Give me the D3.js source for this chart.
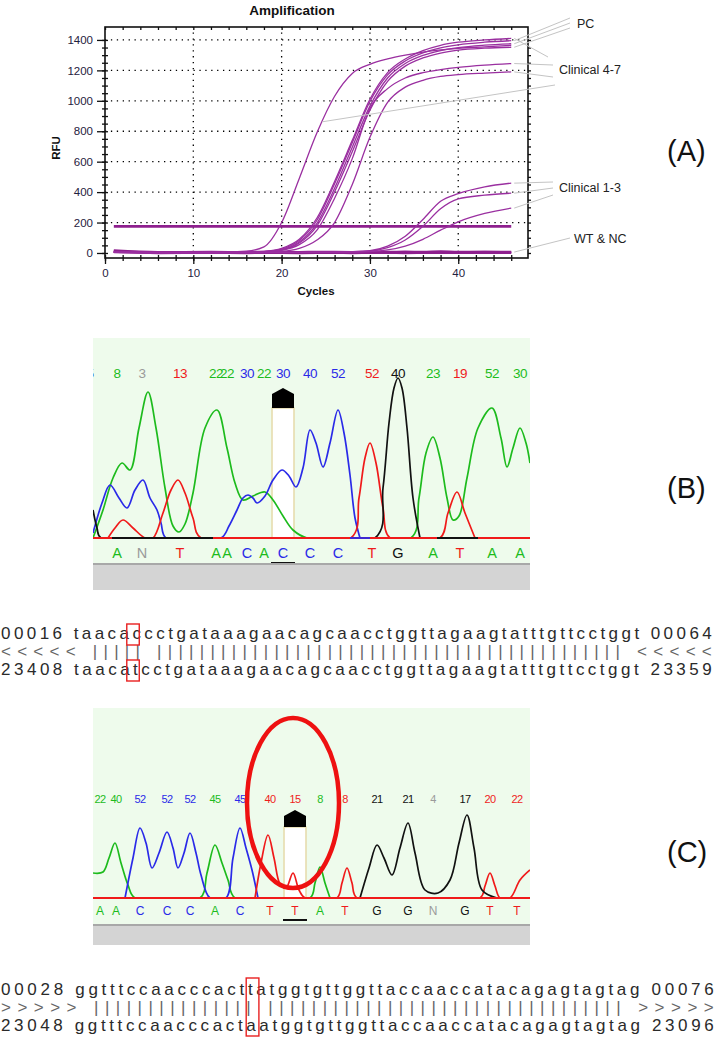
<!DOCTYPE html>
<html>
<head>
<meta charset="utf-8">
<script src="https://cdn.jsdelivr.net/npm/d3@7"></script>
<style>
body { margin: 0; background: #fff; }
text { font-family: "Liberation Sans", Arial, sans-serif; }
</style>
</head>
<body>
<div id="fig"></div>
<script>
// ---------- (A) amplification data
var cycles = [1, 6, 12, 16, 18, 20, 22, 24, 26, 28, 30, 32, 34, 36, 38, 40, 43, 46];
var earlyClinical = [8, 3, 3, 12, 40, 200, 490, 790, 1030, 1180, 1240, 1275, 1300, 1320, 1335, 1345, 1355, 1365];
var clinicalTop = [6, 3, 3, 5, 10, 30, 90, 230, 470, 740, 1010, 1185, 1275, 1330, 1365, 1385, 1400, 1410];
var pc1 = [6, 3, 2, 4, 9, 26, 82, 215, 455, 725, 995, 1170, 1262, 1315, 1348, 1368, 1385, 1395];
var pc2 = [7, 2, 3, 4, 8, 22, 72, 195, 425, 695, 965, 1150, 1245, 1298, 1330, 1350, 1366, 1375];
var pc3 = [6, 3, 3, 5, 8, 20, 65, 178, 402, 665, 938, 1128, 1228, 1282, 1314, 1333, 1346, 1352];
var clinical5 = [6, 3, 3, 4, 7, 18, 55, 150, 360, 620, 950, 1080, 1150, 1185, 1205, 1220, 1235, 1245];
var clinical6 = [5, 2, 3, 3, 5, 10, 30, 85, 200, 450, 760, 990, 1090, 1135, 1160, 1172, 1182, 1190];
var late1 = [4, 2, 2, 3, 3, 4, 4, 5, 6, 8, 15, 45, 110, 220, 340, 390, 435, 459];
var late2 = [3, 2, 2, 2, 3, 3, 4, 5, 6, 7, 12, 35, 85, 175, 290, 355, 380, 393];
var late3 = [4, 2, 3, 3, 3, 4, 4, 4, 5, 6, 9, 20, 45, 90, 150, 205, 260, 295];
var wt1 = [14, 4, 3, 5, 4, 6, 3, 5, 4, 3, 6, 5, 4, 7, 5, 6, 8, 6];
var wt2 = [10, 1, 2, 1, 2, 1, 2, 0, 1, 2, 1, 2, 1, 3, 2, 1, 2, 2];
var nc1 = [18, 7, 8, 7, 9, 8, 7, 9, 8, 7, 9, 8, 10, 9, 12, 8, 9, 8];
var nc2 = [5, -2, -1, -2, 0, -1, -2, -1, 0, -2, -1, 0, -2, -1, 0, -1, 0, -1];
var threshold = 175;
var rfuTicks = [0, 200, 400, 600, 800, 1000, 1200, 1400];
var cycleTicks = [0, 10, 20, 30, 40];
var groupLabels = ["PC", "Clinical 4-7", "Clinical 1-3", "WT & NC"];

// ---------- (B) chromatogram data  [scan, signal]
var bGreen = [[0,0],[10,28],[20,60],[29,75],[37,68],[46,110],[55,146],[63,110],[72,50],[80,12],[86,6],[92,14],[100,45],[112,110],[124,128],[134,90],[142,55],[150,38],[160,42],[172,46],[180,38],[190,22],[200,8],[214,0],[318,0],[326,40],[333,85],[340,101],[347,80],[354,40],[360,18],[366,22],[374,60],[385,110],[399,130],[408,100],[414,71],[420,90],[427,110],[433,95],[437,75]];
var bBlue = [[0,5],[9,35],[17,53],[26,40],[34,30],[42,48],[50,58],[57,40],[64,28],[68,15],[73,0],[128,0],[136,12],[144,28],[150,40],[155,43],[160,40],[164,35],[172,42],[180,58],[189,68],[196,62],[203,51],[210,70],[217,108],[223,95],[230,71],[237,95],[245,128],[251,105],[257,63],[262,20],[267,0]];
var bRed = [[15,0],[22,10],[30,18],[40,10],[52,0],[60,0],[70,25],[78,48],[85,58],[92,45],[100,20],[108,0],[258,0],[266,40],[272,80],[277,95],[283,75],[290,30],[297,0],[347,0],[355,25],[364,46],[372,25],[382,0]];
var bBlack = [[0,28],[4,10],[8,0],[282,0],[290,50],[296,115],[301,150],[305,160],[309,150],[314,110],[320,40],[327,0]];
var bCallPos = [-3, 24, 49, 87, 123, 134, 154, 171, 190, 217, 245, 279, 305, 340, 367, 399, 427];
var bCallBase = "CANTAACACCCTGATAA";
var bCallQual = [5, 8, 3, 13, 22, 22, 30, 22, 30, 40, 52, 52, 40, 23, 19, 52, 30];

// ---------- (C) chromatogram data
var cGreen = [[0,25],[10,26],[16,40],[22,55],[28,35],[35,13],[42,0],[107,0],[114,25],[122,53],[129,35],[135,18],[142,0],[217,0],[222,15],[227,31],[232,15],[237,0]];
var cBlue = [[32,0],[40,40],[47,70],[53,55],[59,30],[66,45],[74,66],[80,50],[85,30],[91,45],[97,65],[103,45],[108,23],[117,0],[133,0],[140,40],[147,70],[153,50],[159,28],[165,0]];
var cRed = [[162,0],[168,35],[175,63],[181,40],[187,14],[193,10],[200,25],[206,8],[212,0],[244,0],[249,15],[254,30],[259,15],[264,0],[387,0],[392,12],[397,25],[402,12],[407,0],[417,0],[427,18],[437,28]];
var cBlack = [[267,0],[276,30],[284,53],[291,40],[299,23],[307,50],[315,75],[322,45],[332,8],[345,5],[357,18],[366,55],[374,83],[381,50],[389,8],[404,0]];
var cCallPos = [7, 23, 47, 74, 97, 122, 147, 177, 202, 227, 252, 284, 315, 340, 372, 397, 424];
var cCallBase = "AACCCACTTATGGNGTT";
var cCallQual = [22, 40, 52, 52, 52, 45, 45, 40, 15, 8, 8, 21, 21, 4, 17, 20, 22];

// ---------- alignments
var bSeqTop = "taacaccctgataaagaacagcaacctggttagaagtatttgttcctggt";
var bSeqBottom = "taacatcctgataaagaacagcaacctggttagaagtatttgttcctggt";
var bSeqNums = ["00016", "00064", "23408", "23359"];
var cSeqTop = "ggtttccaacccacttatggtgttggttaccaaccatacagagtagtag";
var cSeqBottom = "ggtttccaacccactaatggtgttggttaccaaccatacagagtagtag";
var cSeqNums = ["00028", "00076", "23048", "23096"];

var baseColor = { A: "#1dbb1d", C: "#2a2ae8", G: "#111111", T: "#ee1c1c", N: "#9a9a9a" };
var purple = "#9a2fa0";

var svg = d3.select("#fig").append("svg").attr("width", 718).attr("height", 1055);
svg.append("rect").attr("width", 718).attr("height", 1055).attr("fill", "#fff");

// =============== (A)
var x = d3.scaleLinear().domain([0, 47.9]).range([105, 528]);
var y = d3.scaleLinear().domain([-33, 1485]).range([258, 27]);
var gA = svg.append("g");

gA.selectAll(".hgrid").data(rfuTicks.slice(1)).enter().append("line")
  .attr("x1", x(0)).attr("x2", x(47.9)).attr("y1", d => y(d)).attr("y2", d => y(d))
  .attr("stroke", "#000").attr("stroke-width", 1.3).attr("stroke-dasharray", "1.3,4.6");
gA.selectAll(".vgrid").data(cycleTicks.slice(1)).enter().append("line")
  .attr("x1", d => x(d)).attr("x2", d => x(d)).attr("y1", y(-33)).attr("y2", y(1485))
  .attr("stroke", "#000").attr("stroke-width", 1.3).attr("stroke-dasharray", "1.3,4.6");

// frame + ticks
gA.append("rect").attr("x", x(0)).attr("y", y(1485)).attr("width", x(47.9) - x(0)).attr("height", y(-33) - y(1485))
  .attr("fill", "none").attr("stroke", "#111").attr("stroke-width", 1.6);

function styleAxis(g) {
  g.select(".domain").remove();
  g.selectAll("line").attr("stroke", "#111").attr("stroke-width", 1.3);
  g.selectAll("text").attr("fill", "#1f2140").attr("font-size", "11.5px").attr("font-family", "Liberation Sans, Arial, sans-serif");
}
var minorY = d3.range(0, 1450, 50), minorX = d3.range(0, 48, 2);
gA.append("g").attr("transform", "translate(" + x(0) + ",0)")
  .call(d3.axisLeft(y).tickValues(rfuTicks).tickFormat(d3.format("d")).tickSize(8).tickPadding(4)).call(styleAxis);
gA.append("g").attr("transform", "translate(" + x(0) + ",0)")
  .call(d3.axisLeft(y).tickValues(minorY).tickSize(3).tickFormat("")).call(styleAxis);
gA.append("g").attr("transform", "translate(" + x(0) + ",0)")
  .call(d3.axisRight(y).tickValues(minorY).tickSize(3).tickFormat("")).call(styleAxis);
gA.append("g").attr("transform", "translate(" + x(47.9) + ",0)")
  .call(d3.axisRight(y).tickValues(minorY).tickSize(3).tickFormat("")).call(styleAxis);
gA.append("g").attr("transform", "translate(0," + y(-33) + ")")
  .call(d3.axisBottom(x).tickValues(cycleTicks).tickSize(6).tickPadding(5)).call(styleAxis);
gA.append("g").attr("transform", "translate(0," + y(-33) + ")")
  .call(d3.axisBottom(x).tickValues(minorX).tickSize(3).tickFormat("")).call(styleAxis);
gA.append("g").attr("transform", "translate(0," + y(-33) + ")")
  .call(d3.axisTop(x).tickValues(minorX).tickSize(3).tickFormat("")).call(styleAxis);
gA.append("g").attr("transform", "translate(0," + y(1485) + ")")
  .call(d3.axisBottom(x).tickValues(minorX).tickSize(3).tickFormat("")).call(styleAxis);

gA.append("text").attr("x", 292).attr("y", 15).attr("text-anchor", "middle")
  .attr("font-size", "13.5px").attr("font-weight", "bold").attr("fill", "#111").text("Amplification");
gA.append("text").attr("x", 316).attr("y", 295).attr("text-anchor", "middle")
  .attr("font-size", "11.5px").attr("font-weight", "bold").attr("fill", "#111").text("Cycles");
gA.append("text").attr("transform", "translate(60,148) rotate(-90)").attr("text-anchor", "middle")
  .attr("font-size", "11.5px").attr("font-weight", "bold").attr("fill", "#111").text("RFU");

var ampLine = d3.line().curve(d3.curveMonotoneX)
  .x((d, i) => x(cycles[i])).y(d => y(d));
var baseSeries = [wt1, wt2, nc1, nc2];
gA.selectAll(".base").data(baseSeries).enter().append("path")
  .attr("d", ampLine).attr("fill", "none").attr("stroke", "#8e1f8e").attr("stroke-width", 1.8);
gA.append("line").attr("x1", x(1)).attr("x2", x(46)).attr("y1", y(threshold)).attr("y2", y(threshold))
  .attr("stroke", "#8e1f8e").attr("stroke-width", 2.6);
var ampSeries = [earlyClinical, clinicalTop, pc1, pc2, pc3, clinical5, clinical6, late1, late2, late3];
gA.selectAll(".amp").data(ampSeries).enter().append("path")
  .attr("d", ampLine).attr("fill", "none").attr("stroke", purple).attr("stroke-width", 1.3);

// leader lines: [series, cycle on the curve, label index, slot]
var last = cycles.length - 1;
var leaders = [
  [pc1, 46, 0, [570, 18]], [pc2, 46, 0, [570, 23]], [pc3, 46, 0, [570, 28]],
  [clinicalTop, 46, 1, [548, 57]], [clinical5, 46, 1, [553, 65]], [clinical6, 46, 1, [553, 77]],
  [earlyClinical, 24.6, 1, [555, 85]],
  [late1, 46, 2, [553, 182]], [late2, 46, 2, [553, 188]], [late3, 46, 2, [553, 195]],
  [wt1, 46, 3, [570, 238]]
];
gA.selectAll(".leader").data(leaders).enter().append("line")
  .attr("x1", d => d[1] === 46 ? x(46) + 3 : x(d[1]))
  .attr("y1", d => d[1] === 46 ? y(d[0][last]) : y(790 + (d[1] - 24) * 120))
  .attr("x2", d => d[3][0]).attr("y2", d => d[3][1])
  .attr("stroke", "#c4c4c4").attr("stroke-width", 1);
var labelPos = [[577, 28], [559, 74], [559, 192], [574, 243]];
gA.selectAll(".glabel").data(groupLabels).enter().append("text")
  .attr("x", (d, i) => labelPos[i][0]).attr("y", (d, i) => labelPos[i][1])
  .attr("font-size", "12.5px").attr("fill", "#222").text(d => d);

// panel letters
var panelNames = ["(A)", "(B)", "(C)"];
var panelY = [161, 498, 862];
svg.selectAll(".pname").data(panelNames).enter().append("text")
  .attr("x", 667).attr("y", (d, i) => panelY[i]).attr("font-size", "29px").attr("fill", "#111").text(d => d);

// =============== chromatograms
function chromatogram(cfg) {
  var g = svg.append("g");
  var sx = d3.scaleLinear().domain([0, 437]).range([93, 530]);
  var sy = d3.scaleLinear().domain([0, cfg.maxSig]).range([cfg.base, cfg.peakTop]);
  var id = "clip" + cfg.name;
  svg.append("clipPath").attr("id", id).append("rect")
    .attr("x", 93).attr("y", cfg.top).attr("width", 437).attr("height", cfg.base - cfg.top + 1);
  g.append("rect").attr("x", 93).attr("y", cfg.top).attr("width", 437).attr("height", cfg.barTop - cfg.top)
    .attr("fill", "#eefbec");
  // cursor column
  var cx = sx(cfg.pos[cfg.cursor]);
  g.append("rect").attr("x", cx - 11).attr("y", cfg.houseTop + cfg.houseH).attr("width", 22)
    .attr("height", cfg.base - cfg.houseTop - cfg.houseH)
    .attr("fill", "#fff").attr("stroke", "#e7dcae").attr("stroke-width", 1.6);
  var tr = g.append("g").attr("clip-path", "url(#" + id + ")");
  var line = d3.line().curve(d3.curveCatmullRom.alpha(0.5)).x(d => sx(d[0])).y(d => sy(d[1]));
  cfg.traces.forEach(function (t) {
    tr.append("path").attr("d", line(t[0])).attr("fill", "none").attr("stroke", t[1]).attr("stroke-width", 1.7);
  });
  g.append("line").attr("x1", 93).attr("x2", 530).attr("y1", cfg.base).attr("y2", cfg.base)
    .attr("stroke", "#f01a1a").attr("stroke-width", 1.8);
  cfg.segs.forEach(function (s) {
    g.append("line").attr("x1", sx(s[0])).attr("x2", sx(s[1])).attr("y1", cfg.base).attr("y2", cfg.base)
      .attr("stroke", s[2]).attr("stroke-width", 1.8);
  });
  // house marker
  var ht = cfg.houseTop, hh = cfg.houseH;
  g.append("path").attr("d", "M" + (cx - 11) + "," + (ht + hh) + "V" + (ht + 6) + "L" + cx + "," + ht +
    "L" + (cx + 11) + "," + (ht + 6) + "V" + (ht + hh) + "Z").attr("fill", "#000");
  // quality numbers
  var nums = svg.append("g").attr("clip-path", "url(#" + id + ")");
  nums.selectAll("text").data(cfg.qual).enter().append("text")
    .attr("x", (d, i) => sx(cfg.pos[i])).attr("y", cfg.numY).attr("text-anchor", "middle")
    .attr("font-family", "DejaVu Sans, sans-serif").attr("font-size", cfg.numSize)
    .attr("letter-spacing", "-0.6px")
    .attr("fill", (d, i) => baseColor[cfg.bases[i]]).text(d => d);
  // base letters
  var bases = cfg.bases.split("").map((b, i) => [b, cfg.pos[i]]).filter(d => d[1] > 5);
  g.selectAll(".bl").data(bases).enter().append("text")
    .attr("x", d => sx(d[1])).attr("y", cfg.letterY).attr("text-anchor", "middle")
    .attr("font-family", "DejaVu Sans, sans-serif").attr("font-size", cfg.letterSize)
    .attr("fill", d => baseColor[d[0]]).text(d => d[0]);
  g.append("line").attr("x1", cx - 12).attr("x2", cx + 12).attr("y1", cfg.letterY + 5).attr("y2", cfg.letterY + 5)
    .attr("stroke", "#111").attr("stroke-width", 2);
  // grey bar
  g.append("rect").attr("x", 93).attr("y", cfg.barTop).attr("width", 437).attr("height", cfg.barBottom - cfg.barTop)
    .attr("fill", "#d4d4d4");
  g.append("line").attr("x1", 93).attr("x2", 530).attr("y1", cfg.barTop).attr("y2", cfg.barTop)
    .attr("stroke", "#a8a8a8").attr("stroke-width", 2);
  return sx;
}

chromatogram({ name: "B", top: 338, base: 538, peakTop: 378, maxSig: 160, barTop: 564, barBottom: 590,
  numY: 378, numSize: "13.5px", letterY: 558, letterSize: "14.5px", houseTop: 388, houseH: 20,
  pos: bCallPos, bases: bCallBase, qual: bCallQual, cursor: 8,
  traces: [[bGreen, "#1dbb1d"], [bBlue, "#2a2ae8"], [bRed, "#f01a1a"], [bBlack, "#111"]],
  segs: [[19, 120, "#111"], [257, 277, "#2a2ae8"], [344, 385, "#111"]] });

chromatogram({ name: "C", top: 708, base: 898, peakTop: 798, maxSig: 100, barTop: 925, barBottom: 945,
  numY: 803, numSize: "11px", letterY: 915, letterSize: "12px", houseTop: 810, houseH: 17,
  pos: cCallPos, bases: cCallBase, qual: cCallQual, cursor: 8,
  traces: [[cGreen, "#1dbb1d"], [cBlue, "#2a2ae8"], [cRed, "#f01a1a"], [cBlack, "#111"]],
  segs: [] });

// red ellipse around the call
svg.append("ellipse").attr("cx", 293).attr("cy", 803).attr("rx", 46).attr("ry", 85)
  .attr("fill", "none").attr("stroke", "#ee1111").attr("stroke-width", 4.5);

// =============== alignments
function alignment(top, bottom, nums, arrow, y0, cw, joined) {
  var g = svg.append("g");
  var match = top.split("").map((c, i) => c === bottom[i] ? "|" : " ").join("");
  var rows = [nums[0] + " " + top + " " + nums[1], arrow + " " + match + " " + arrow, nums[2] + " " + bottom + " " + nums[3]];
  g.selectAll("text").data(rows).enter().append("text")
    .attr("x", 1).attr("y", (d, i) => y0 + i * 18)
    .attr("textLength", d => d.length * cw - 1).attr("lengthAdjust", "spacing")
    .style("white-space", "pre").attr("xml:space", "preserve")
    .attr("font-family", "Liberation Mono, monospace").attr("font-size", "17px")
    .attr("fill", (d, i) => i === 1 ? "#666" : "#2a2a2a").text(d => d);
  var mi = match.indexOf(" ");
  var bx = 1 + (6 + mi) * cw;
  if (joined) {
    g.append("rect").attr("x", bx - 0.5).attr("y", y0 - 17).attr("width", cw + 1).attr("height", 58)
      .attr("fill", "none").attr("stroke", "#e82020").attr("stroke-width", 1.4);
  } else {
    [0, 2].forEach(function (ri) {
      g.append("rect").attr("x", bx - 0.5).attr("y", y0 + ri * 18 - 15).attr("width", cw + 1).attr("height", 21)
        .attr("fill", "none").attr("stroke", "#e82020").attr("stroke-width", 1.4);
    });
  }
}
alignment(bSeqTop, bSeqBottom, bSeqNums, "<<<<<", 639, 11.48, false);
alignment(cSeqTop, cSeqBottom, cSeqNums, ">>>>>", 995, 11.7, true);
</script>
</body>
</html>
